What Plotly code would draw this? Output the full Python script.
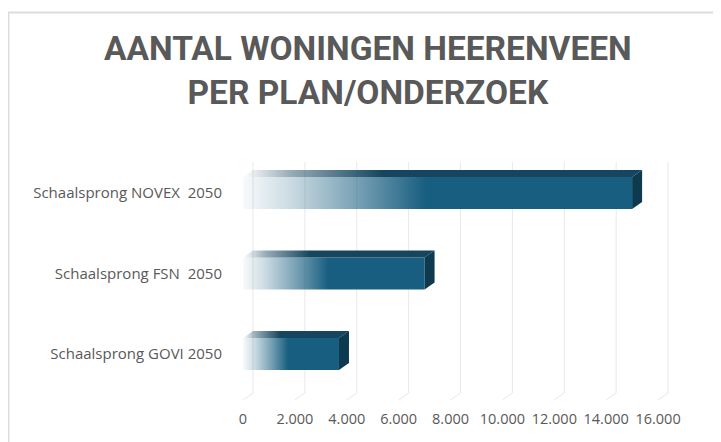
import plotly.graph_objects as go

# ---- data ----
categories = ["Schaalsprong GOVI 2050", "Schaalsprong FSN  2050", "Schaalsprong NOVEX  2050"]
values = [3700, 7000, 15000]
tick_values = [0, 2000, 4000, 6000, 8000, 10000, 12000, 14000, 16000]
title_lines = ["AANTAL WONINGEN HEERENVEEN", "PER PLAN/ONDERZOEK"]

# ---- geometry / style ----
OFF = 8                                   # page body margin in the viewer
W, H = 721 - OFF, 442 - OFF
L, R, T, B = 235 - OFF, 690 - OFF, 162 - OFF, 393 - OFF   # plot area (figure px)
X0PX = 243 - OFF                          # pixel of value 0 (front)
k = 25.94 / 1000.0                        # px per data unit (x)
x0 = -(X0PX - L) / k
x1 = (R - X0PX) / k
py = 80.5                                 # px per category unit (y)
YC2 = 193 - OFF                           # pixel of top category centre
y_top = 2 + (YC2 - T) / py
y_bot = 2 - (B - YC2) / py
half = 0.2                                # half bar height (y units)
DX = 10 / k                               # depth offset (x data units)
DY = 7 / py                               # depth offset (y units)

FRONT = "24,94,128"
TOP = "22,70,95"
SIDE = "rgb(14,58,80)"
GRID = "#e8e8e8"
TXT = "#595959"

fig = go.Figure()

for i, v in enumerate(values):
    # front face with transparency gradient
    fig.add_trace(go.Scatter(
        x=[0, v, v, 0, 0], y=[i - half, i - half, i + half, i + half, i - half],
        mode="lines", line=dict(width=0), fill="toself",
        fillgradient=dict(type="horizontal", colorscale=[
            [0.0, f"rgba({FRONT},0.03)"], [0.12, f"rgba({FRONT},0.22)"],
            [0.3, f"rgba({FRONT},0.6)"], [0.47, f"rgba({FRONT},1)"],
            [1.0, f"rgba({FRONT},1)"]]),
        hoverinfo="skip", showlegend=False))
    # top face
    fig.add_trace(go.Scatter(
        x=[0, v, v + DX, DX, 0], y=[i + half, i + half, i + half + DY, i + half + DY, i + half],
        mode="lines", line=dict(width=0), fill="toself",
        fillgradient=dict(type="horizontal", colorscale=[
            [0.0, f"rgba({TOP},0.0)"], [0.12, f"rgba({TOP},0.45)"],
            [0.35, f"rgba({TOP},1)"], [1.0, f"rgba({TOP},1)"]]),
        hoverinfo="skip", showlegend=False))
    # side face
    fig.add_trace(go.Scatter(
        x=[v, v + DX, v + DX, v, v], y=[i - half, i - half + DY, i + half + DY, i + half, i - half],
        mode="lines", line=dict(width=0), fill="toself", fillcolor=SIDE,
        hoverinfo="skip", showlegend=False))

shapes = []
# back-wall gridlines and floor lines
for t in tick_values:
    shapes.append(dict(type="line", xref="x", yref="paper", x0=t + DX, x1=t + DX, y0=0, y1=1,
                       line=dict(color=GRID, width=1), layer="below"))
    shapes.append(dict(type="line", xref="x", yref="paper", x0=t, x1=t + DX, y0=-0.03, y1=0,
                       line=dict(color=GRID, width=1), layer="below"))
# chart border (top/left visible)
pw, ph = R - L, B - T
shapes.append(dict(type="rect", xref="paper", yref="paper",
                   x0=(8.5 - OFF - L) / pw, x1=(W + 10 - L) / pw,
                   y0=(B - (H + 10)) / ph, y1=(B - (12.5 - OFF)) / ph,
                   line=dict(color="#dcdcdc", width=2), layer="below"))

fig.update_layout(
    width=W, height=H,
    margin=dict(l=L, r=W - R, t=T, b=H - B, pad=0),
    paper_bgcolor="white", plot_bgcolor="white",
    separators=",.",
    showlegend=False,
    shapes=shapes,
    annotations=[dict(
        text="<b>" + "<br>".join(title_lines) + "</b>",
        xref="paper", yref="paper",
        x=(367.5 - OFF - L) / pw, y=(B - (71 - OFF)) / ph, xanchor="center", yanchor="middle",
        showarrow=False, align="center",
        font=dict(family="Roboto", size=33.5, color=TXT))],
    xaxis=dict(range=[x0, x1], tickvals=tick_values, tickformat=",d",
               showgrid=False, zeroline=False, showline=False, ticks="",
               tickfont=dict(family="Open Sans", size=14.5, color=TXT),
               ticklabelstandoff=15, fixedrange=True),
    yaxis=dict(range=[y_bot, y_top], tickvals=list(range(len(categories))), ticktext=categories,
               showgrid=False, zeroline=False, showline=False, ticks="",
               tickfont=dict(family="Open Sans", size=15, color=TXT),
               ticklabelstandoff=12, fixedrange=True),
)

fig.write_html("out.html")
